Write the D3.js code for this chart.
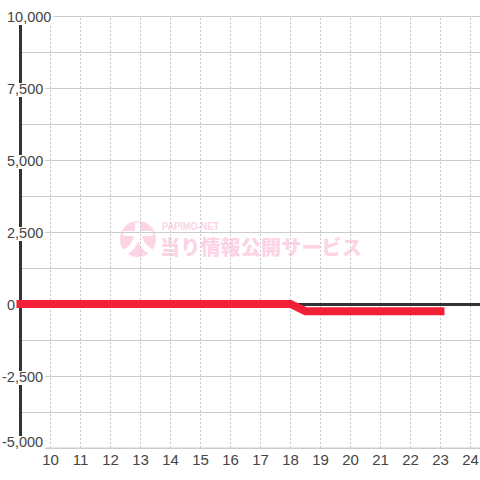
<!DOCTYPE html>
<html>
<head>
<meta charset="utf-8">
<script src="https://cdn.jsdelivr.net/npm/d3@7"></script>
<style>
    html, body { margin: 0; padding: 0; background: #fff; }
    svg { display: block; }
    text { font-family: "Liberation Sans", Arial, sans-serif; }
</style>
</head>
<body>
<div id="chart"></div>
<script>
// values
const gameTicks = [10, 11, 12, 13, 14, 15, 16, 17, 18, 19, 20, 21, 22, 23, 24];
const gridValues = [-5000, -3750, -2500, -1250, 0, 1250, 2500, 3750, 5000, 6250, 7500, 8750, 10000];
const labelValues = [-5000, -2500, 0, 2500, 5000, 7500, 10000];
const lineGames = [9, 18, 18.5, 23];
const lineValues = [0, 0, -250, -250];
const watermarkTop = "PAPIMO-NET";
const watermarkMain = "当り情報公開サービス";

const width = 480, height = 480;

const svg = d3.select("#chart").append("svg")
    .attr("width", width)
    .attr("height", height);

// scales (d3 axes add their own half pixel)
const x = d3.scaleLinear().domain([10, 24]).range([50, 470]);
const y = d3.scaleLinear().domain([-5000, 10000]).range([448, 16]);

// watermark, under the grid
const mark = svg.append("g");
mark.append("circle").attr("cx", 138).attr("cy", 239).attr("r", 18).attr("fill", "#fdd3e6");
mark.append("text")
    .attr("x", 138).attr("y", 251)
    .attr("text-anchor", "middle")
    .style("font-family", "'Noto Sans CJK JP'")
    .style("font-weight", 900)
    .style("font-size", "33px")
    .attr("fill", "#fff")
    .text("大");
mark.append("text")
    .attr("x", 162).attr("y", 230)
    .style("font-size", "10px")
    .attr("textLength", 57)
    .attr("lengthAdjust", "spacingAndGlyphs")
    .style("font-weight", 700)
    .attr("fill", "#fdd3e6")
    .text(watermarkTop);
mark.append("text")
    .attr("x", 160).attr("y", 255)
    .style("font-family", "'Noto Sans CJK JP'")
    .style("font-weight", 900)
    .style("font-size", "20px")
    .style("letter-spacing", "0.2px")
    .attr("fill", "#fdd3e6")
    .text(watermarkMain);

// vertical dotted grid
svg.append("g")
    .attr("transform", `translate(0, ${y(-5000)})`)
    .call(d3.axisBottom(x).tickValues(gameTicks).tickSize(-432).tickSizeOuter(0).tickFormat(""))
    .call(g => g.select(".domain").remove())
    .call(g => g.selectAll("line")
        .attr("stroke", "#c8c8c8")
        .attr("stroke-dasharray", "2,2"));

// horizontal grid
svg.append("g")
    .attr("transform", "translate(20, 0)")
    .call(d3.axisRight(y).tickValues(gridValues).tickSize(460).tickFormat(""))
    .call(g => g.select(".domain").remove())
    .call(g => g.selectAll("line").attr("stroke", "#cccccc"));

// dark axes
svg.append("line")
    .attr("x1", 20.5).attr("x2", 20.5)
    .attr("y1", y(10000)).attr("y2", y(-5000))
    .attr("stroke", "#333").attr("stroke-width", 3);
svg.append("line")
    .attr("x1", 20).attr("x2", width)
    .attr("y1", y(0) + 0.5).attr("y2", y(0) + 0.5)
    .attr("stroke", "#333").attr("stroke-width", 3);

// y labels sit on white boxes which cut the axis and grid
const yLabels = svg.append("g").selectAll("g")
    .data(labelValues)
    .join("g")
    .attr("transform", d => `translate(${d < 0 ? 2 : 7}, ${y(d) + (d === -5000 ? -1 : 6)})`);

yLabels.append("text")
    .style("font-size", "14.5px")
    .attr("fill", "#444")
    .text(d => d3.format(",")(d).replace("−", "-"));

yLabels.filter(d => d !== 0).insert("rect", "text")
    .each(function(d) {
        const box = this.parentNode.querySelector("text").getBBox();
        d3.select(this)
            .attr("x", box.x - 1)
            .attr("y", -11)
            .attr("width", box.width + 3)
            .attr("height", 14)
            .attr("fill", "#fff");
    });

// result line
const line = d3.line()
    .x((d, i) => x(lineGames[i]) + 0.5)
    .y(d => y(d));

svg.append("path")
    .datum(lineValues)
    .attr("d", line)
    .attr("fill", "none")
    .attr("stroke", "#f12038")
    .attr("stroke-width", 8)
    .attr("stroke-linecap", "square")
    .attr("stroke-linejoin", "miter");

// x axis
svg.append("g")
    .attr("transform", `translate(0, ${y(-5000)})`)
    .call(d3.axisBottom(x).tickValues(gameTicks).tickSize(0).tickPadding(6).tickFormat(d => d))
    .call(g => g.select(".domain").attr("d", "M46,0H480").attr("stroke", "#cccccc"))
    .call(g => g.selectAll("text")
        .style("font-family", "'Liberation Sans'")
        .style("font-size", "15px")
        .attr("fill", "#444"));
</script>
</body>
</html>
